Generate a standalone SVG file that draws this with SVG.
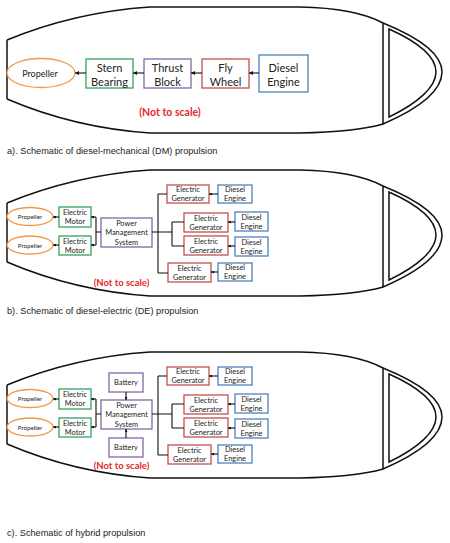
<svg xmlns="http://www.w3.org/2000/svg" width="450" height="543" viewBox="0 0 450 543">
<defs>
<marker id="ah" markerWidth="4" markerHeight="4" refX="4" refY="2" orient="auto" markerUnits="userSpaceOnUse"><path d="M0,0 L4,2 L0,4z" fill="#111"/></marker>
<marker id="as" markerWidth="3" markerHeight="3" refX="3" refY="1.5" orient="auto" markerUnits="userSpaceOnUse"><path d="M0,0 L3,1.5 L0,3z" fill="#111"/></marker>
<g id="hullShape">
<path d="M7,40 L7,99 M7,40 Q75,12 150,7 L300,7 Q355,8 383,23 M7,99 Q75,128 150,133 L300,133 Q355,132 383,124"/>
<path d="M383,23 C420,38 442,55 442,72 C442,90 420,108 383,124 Z"/>
<path d="M389,29 C418,42 436,57 436,72 C436,87 418,103 389,117 Z"/>
</g>
</defs>
<style>
.hull{fill:none;stroke:#111;stroke-width:1.5}
rect,ellipse{fill:#fff;stroke-width:1.3}
.gr{stroke:#35a160}.pu{stroke:#8466a8}.rd{stroke:#c0504d}.bl{stroke:#4f81bd}.or{stroke:#f29a4a}
text{font-family:Lato,"Open Sans","Liberation Sans",sans-serif;fill:#222;text-anchor:middle;dominant-baseline:central}
.t11{font-size:11px}.t9{font-size:9px}.t7{font-size:7.4px}.t6{font-size:6.2px}
.nts{fill:#e4292c;font-weight:bold}
.cap{font-family:"Liberation Sans",Arial,sans-serif;font-size:9.2px;fill:#222;text-anchor:start}
.c{fill:none;stroke:#111;stroke-width:1.1}
</style>

<!-- Panel a -->
<g id="hull-a" class="hull"><use href="#hullShape"/></g>
<g id="a-propeller"><ellipse class="or" cx="41" cy="73" rx="34" ry="14.5"/><text class="t9" x="40" y="73">Propeller</text></g>
<g id="a-stern"><rect class="gr" x="86" y="59" width="47" height="29"/><text class="t11" x="109.5" y="67">Stern</text><text class="t11" x="109.5" y="81">Bearing</text></g>
<g id="a-thrust"><rect class="pu" x="144" y="59" width="47" height="29"/><text class="t11" x="167.5" y="67">Thrust</text><text class="t11" x="167.5" y="81">Block</text></g>
<g id="a-fly"><rect class="rd" x="202" y="59" width="47" height="29"/><text class="t11" x="225.5" y="67">Fly</text><text class="t11" x="225.5" y="81">Wheel</text></g>
<g id="a-diesel"><rect class="bl" x="259" y="55" width="49" height="37"/><text class="t11" x="283.5" y="67">Diesel</text><text class="t11" x="283.5" y="81">Engine</text></g>
<g id="a-connectors" class="c">
<path d="M259,73 H249" marker-end="url(#ah)"/>
<path d="M202,73 H191" marker-end="url(#ah)"/>
<path d="M144,73 H133" marker-end="url(#ah)"/>
<path d="M86,73 H75" marker-end="url(#ah)"/>
</g>
<text class="t11 nts" x="170" y="112" style="font-size:10.5px">(Not to scale)</text>
<text class="cap" x="7" y="151">a). Schematic of diesel-mechanical (DM) propulsion</text>

<!-- Panel b -->
<g id="hull-b" class="hull" transform="translate(0,163)"><use href="#hullShape"/></g>
<g id="b-prop1"><ellipse class="or" cx="30" cy="216.5" rx="23" ry="9"/><text class="t6" x="30" y="216.5">Propeller</text></g>
<g id="b-prop2"><ellipse class="or" cx="30" cy="245" rx="23" ry="9"/><text class="t6" x="30" y="245">Propeller</text></g>
<g id="b-motor1"><rect class="gr" x="59" y="207" width="32" height="20"/><text class="t7" x="75" y="212.5">Electric</text><text class="t7" x="75" y="221.5">Motor</text></g>
<g id="b-motor2"><rect class="gr" x="59" y="236" width="32" height="19"/><text class="t7" x="75" y="241">Electric</text><text class="t7" x="75" y="250">Motor</text></g>
<g id="b-pms"><rect class="pu" x="101" y="218" width="51" height="29"/><text class="t7" x="126.5" y="223">Power</text><text class="t7" x="126.5" y="232.5">Management</text><text class="t7" x="126.5" y="242">System</text></g>
<g id="b-eg1"><rect class="rd" x="167" y="185" width="42" height="18"/><text class="t7" x="188" y="189.5">Electric</text><text class="t7" x="188" y="198.5">Generator</text></g>
<g id="b-de1"><rect class="bl" x="218" y="185" width="34" height="18"/><text class="t7" x="235" y="189.5">Diesel</text><text class="t7" x="235" y="198.5">Engine</text></g>
<g id="b-eg2"><rect class="rd" x="184" y="213" width="44" height="19"/><text class="t7" x="206" y="218">Electric</text><text class="t7" x="206" y="227">Generator</text></g>
<g id="b-de2"><rect class="bl" x="235" y="212" width="33" height="19"/><text class="t7" x="251.5" y="217">Diesel</text><text class="t7" x="251.5" y="226">Engine</text></g>
<g id="b-eg3"><rect class="rd" x="184" y="236" width="44" height="19"/><text class="t7" x="206" y="241">Electric</text><text class="t7" x="206" y="250">Generator</text></g>
<g id="b-de3"><rect class="bl" x="235" y="237" width="33" height="19"/><text class="t7" x="251.5" y="242">Diesel</text><text class="t7" x="251.5" y="251">Engine</text></g>
<g id="b-eg4"><rect class="rd" x="168" y="263" width="43" height="19"/><text class="t7" x="189.5" y="268">Electric</text><text class="t7" x="189.5" y="277">Generator</text></g>
<g id="b-de4"><rect class="bl" x="218" y="263" width="34" height="18"/><text class="t7" x="235" y="267.5">Diesel</text><text class="t7" x="235" y="276.5">Engine</text></g>
<g id="b-connectors" class="c">
<path d="M59,217 H53" marker-end="url(#as)"/>
<path d="M59,245 H53" marker-end="url(#as)"/>
<path d="M96,217 H91" marker-end="url(#as)"/>
<path d="M96,245 H91" marker-end="url(#as)"/>
<path d="M96,217 V245 M96,232 H101"/>
<path d="M152,232 H172 M158,194 V273 M158,194 H167 M158,273 H168 M172,222 V246 M172,222 H184 M172,246 H184"/>
<path d="M218,194 H209" marker-end="url(#as)"/>
<path d="M235,222 H228" marker-end="url(#as)"/>
<path d="M235,246 H228" marker-end="url(#as)"/>
<path d="M218,272 H211" marker-end="url(#as)"/>
</g>
<text class="t9 nts" x="121.5" y="282" style="font-size:9.5px">(Not to scale)</text>
<text class="cap" x="7" y="311">b). Schematic of diesel-electric (DE) propulsion</text>

<!-- Panel c -->
<g id="hull-c" class="hull" transform="translate(0,345)"><use href="#hullShape"/></g>
<g transform="translate(0,182)">
<g id="c-prop1"><ellipse class="or" cx="30" cy="216.5" rx="23" ry="9"/><text class="t6" x="30" y="216.5">Propeller</text></g>
<g id="c-prop2"><ellipse class="or" cx="30" cy="245" rx="23" ry="9"/><text class="t6" x="30" y="245">Propeller</text></g>
<g id="c-motor1"><rect class="gr" x="59" y="207" width="32" height="20"/><text class="t7" x="75" y="212.5">Electric</text><text class="t7" x="75" y="221.5">Motor</text></g>
<g id="c-motor2"><rect class="gr" x="59" y="236" width="32" height="19"/><text class="t7" x="75" y="241">Electric</text><text class="t7" x="75" y="250">Motor</text></g>
<g id="c-pms"><rect class="pu" x="101" y="218" width="51" height="29"/><text class="t7" x="126.5" y="223">Power</text><text class="t7" x="126.5" y="232.5">Management</text><text class="t7" x="126.5" y="242">System</text></g>
<g id="c-bat1"><rect class="pu" x="109" y="191" width="34" height="19"/><text class="t7" x="126" y="200.5">Battery</text></g>
<g id="c-bat2"><rect class="pu" x="109" y="256" width="34" height="19"/><text class="t7" x="126" y="265.5">Battery</text></g>
<g id="c-eg1"><rect class="rd" x="167" y="185" width="42" height="18"/><text class="t7" x="188" y="189.5">Electric</text><text class="t7" x="188" y="198.5">Generator</text></g>
<g id="c-de1"><rect class="bl" x="218" y="185" width="34" height="18"/><text class="t7" x="235" y="189.5">Diesel</text><text class="t7" x="235" y="198.5">Engine</text></g>
<g id="c-eg2"><rect class="rd" x="184" y="213" width="44" height="19"/><text class="t7" x="206" y="218">Electric</text><text class="t7" x="206" y="227">Generator</text></g>
<g id="c-de2"><rect class="bl" x="235" y="212" width="33" height="19"/><text class="t7" x="251.5" y="217">Diesel</text><text class="t7" x="251.5" y="226">Engine</text></g>
<g id="c-eg3"><rect class="rd" x="184" y="236" width="44" height="19"/><text class="t7" x="206" y="241">Electric</text><text class="t7" x="206" y="250">Generator</text></g>
<g id="c-de3"><rect class="bl" x="235" y="237" width="33" height="19"/><text class="t7" x="251.5" y="242">Diesel</text><text class="t7" x="251.5" y="251">Engine</text></g>
<g id="c-eg4"><rect class="rd" x="168" y="263" width="43" height="19"/><text class="t7" x="189.5" y="268">Electric</text><text class="t7" x="189.5" y="277">Generator</text></g>
<g id="c-de4"><rect class="bl" x="218" y="263" width="34" height="18"/><text class="t7" x="235" y="267.5">Diesel</text><text class="t7" x="235" y="276.5">Engine</text></g>
<g id="c-connectors" class="c">
<path d="M59,217 H53" marker-end="url(#as)"/>
<path d="M59,245 H53" marker-end="url(#as)"/>
<path d="M96,217 H91" marker-end="url(#as)"/>
<path d="M96,245 H91" marker-end="url(#as)"/>
<path d="M96,217 V245 M96,232 H101"/>
<path d="M126,210 V218" marker-end="url(#as)"/>
<path d="M126,256 V247" marker-end="url(#as)"/>
<path d="M152,232 H172 M158,194 V273 M158,194 H167 M158,273 H168 M172,222 V246 M172,222 H184 M172,246 H184"/>
<path d="M218,194 H209" marker-end="url(#as)"/>
<path d="M235,222 H228" marker-end="url(#as)"/>
<path d="M235,246 H228" marker-end="url(#as)"/>
<path d="M218,272 H211" marker-end="url(#as)"/>
</g>
<text class="t9 nts" x="121.5" y="283" style="font-size:9.5px">(Not to scale)</text>
</g>
<text class="cap" x="7" y="533">c). Schematic of hybrid propulsion</text>
</svg>
